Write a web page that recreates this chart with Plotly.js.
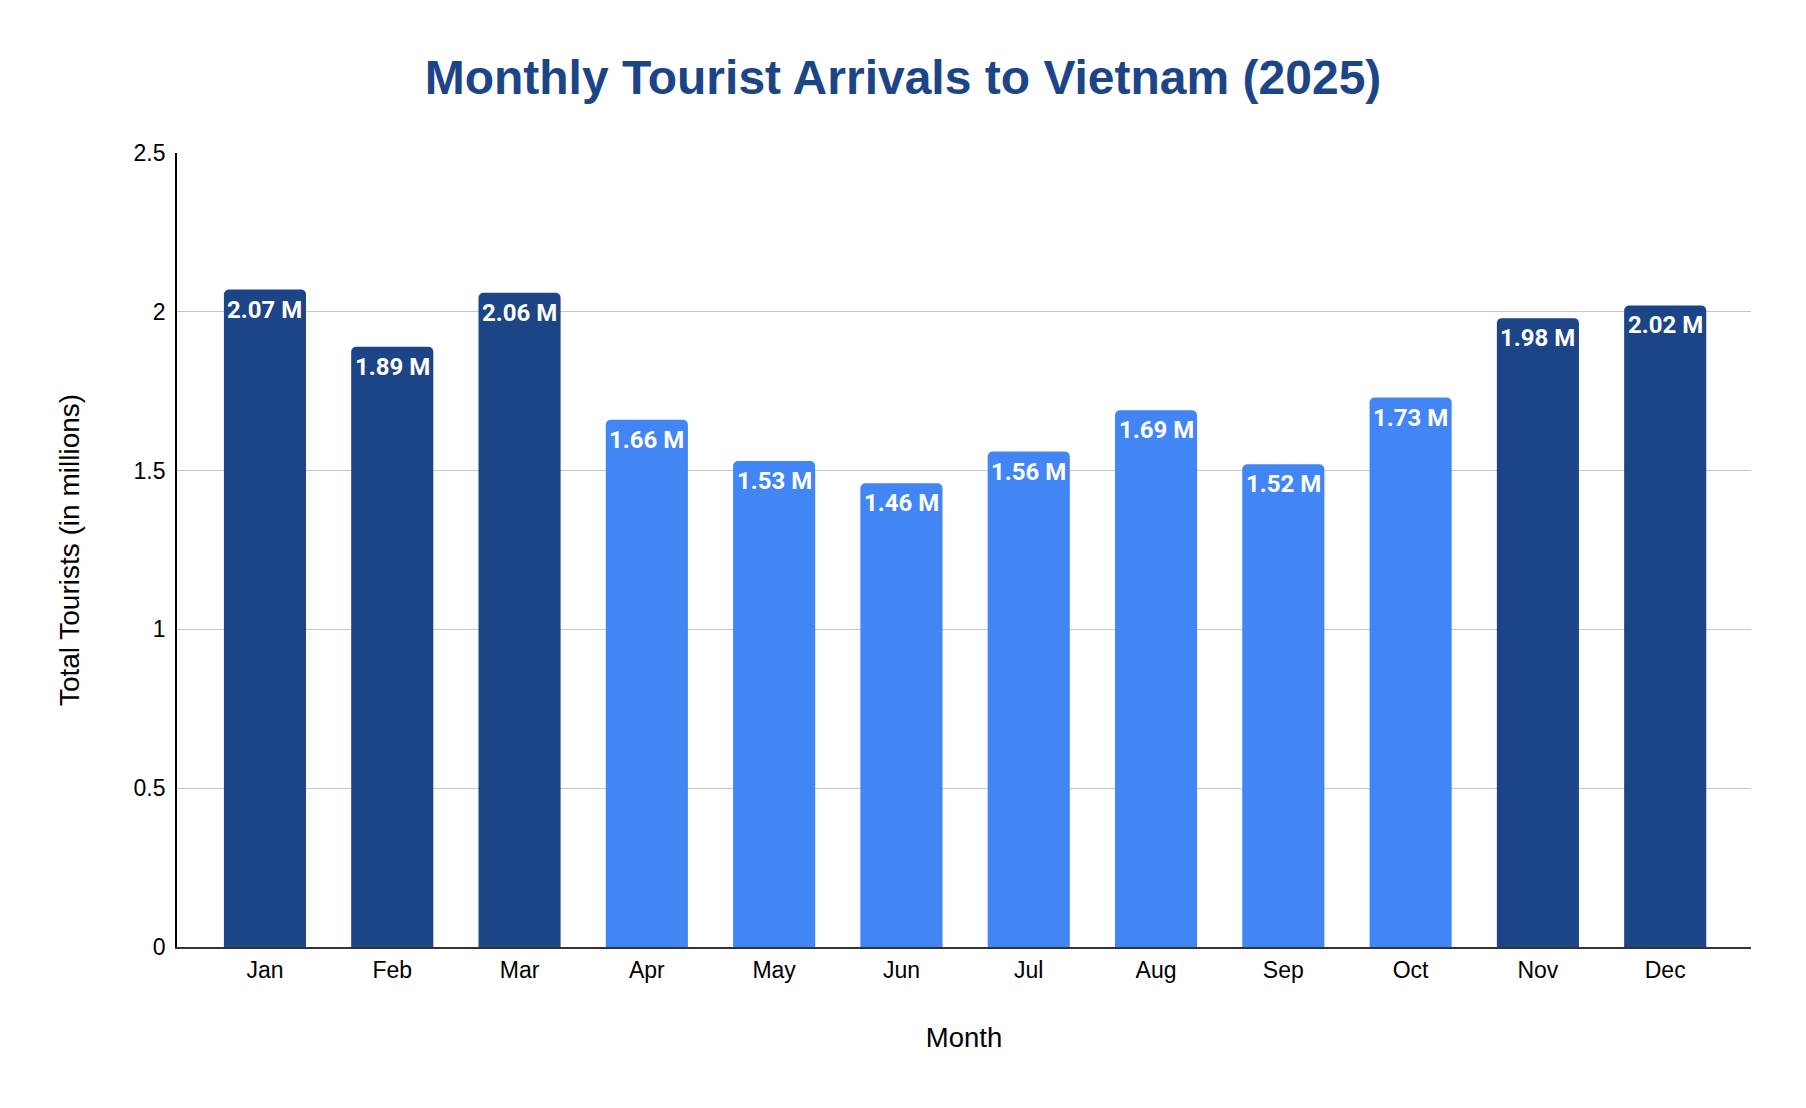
<!DOCTYPE html>
<html>
<head>
<meta charset="utf-8">
<script src="https://cdn.plot.ly/plotly-3.0.1.min.js"></script>
<style>
  html, body { margin: 0; padding: 0; background: #ffffff; }
  #chart { width: 1806px; height: 1108px; }
</style>
</head>
<body>
<div id="chart"></div>
<script>
const months = ["Jan", "Feb", "Mar", "Apr", "May", "Jun", "Jul", "Aug", "Sep", "Oct", "Nov", "Dec"];
const touristsMillions = [2.07, 1.89, 2.06, 1.66, 1.53, 1.46, 1.56, 1.69, 1.52, 1.73, 1.98, 2.02];
const peakSeason = [true, true, true, false, false, false, false, false, false, false, true, true];

const darkBlue = "#1c4587";
const lightBlue = "#4285f4";
const barColors = peakSeason.map(p => p ? darkBlue : lightBlue);

const trace = {
  type: "bar",
  x: months,
  y: touristsMillions,
  marker: { color: barColors, cornerradius: 5, line: { width: 0 } },
  hovertemplate: "%{x}: %{y:.2f} M<extra></extra>",
  showlegend: false
};

const valueLabels = months.map((m, i) => ({
  x: m,
  y: touristsMillions[i],
  xref: "x",
  yref: "y",
  text: touristsMillions[i].toFixed(2) + " M",
  showarrow: false,
  xanchor: "center",
  yanchor: "top",
  yshift: -4,
  font: { family: "Roboto, 'Open Sans', sans-serif", size: 24, color: "#ffffff", weight: "bold" }
}));

const layout = {
  width: 1806,
  height: 1108,
  paper_bgcolor: "#ffffff",
  plot_bgcolor: "#ffffff",
  margin: { l: 177, r: 55, t: 153, b: 161 },
  bargap: 0.355,
  font: { family: "'Liberation Sans', Arial, sans-serif", color: "#000000" },
  title: {
    text: "Monthly Tourist Arrivals to Vietnam (2025)",
    font: { family: "'Liberation Sans', Arial, sans-serif", size: 48, color: darkBlue, weight: "bold" },
    xref: "container", x: 0.5, xanchor: "center",
    yref: "container", y: 0.9305, yanchor: "middle"
  },
  xaxis: {
    type: "category",
    range: [-0.691, 11.674],
    showline: true, linecolor: "#333333", linewidth: 1.5,
    showgrid: false, zeroline: false,
    ticks: "", ticklabelstandoff: 2,
    tickfont: { size: 23, color: "#000000" },
    title: { text: "Month", font: { size: 27.5, color: "#000000" }, standoff: 45 },
    fixedrange: true
  },
  yaxis: {
    range: [0, 2.5],
    dtick: 0.5, tick0: 0,
    showline: true, linecolor: "#000000", linewidth: 1.7,
    showgrid: true, gridcolor: "#c6c6c6", gridwidth: 1.4,
    zeroline: false,
    ticks: "", ticklabelstandoff: 5,
    tickfont: { size: 23, color: "#000000" },
    title: { text: "Total Tourists (in millions)", font: { size: 28, color: "#000000" }, standoff: 46 },
    fixedrange: true
  },
  annotations: valueLabels
};

Plotly.newPlot("chart", [trace], layout, { displayModeBar: false, responsive: false });
</script>
</body>
</html>
